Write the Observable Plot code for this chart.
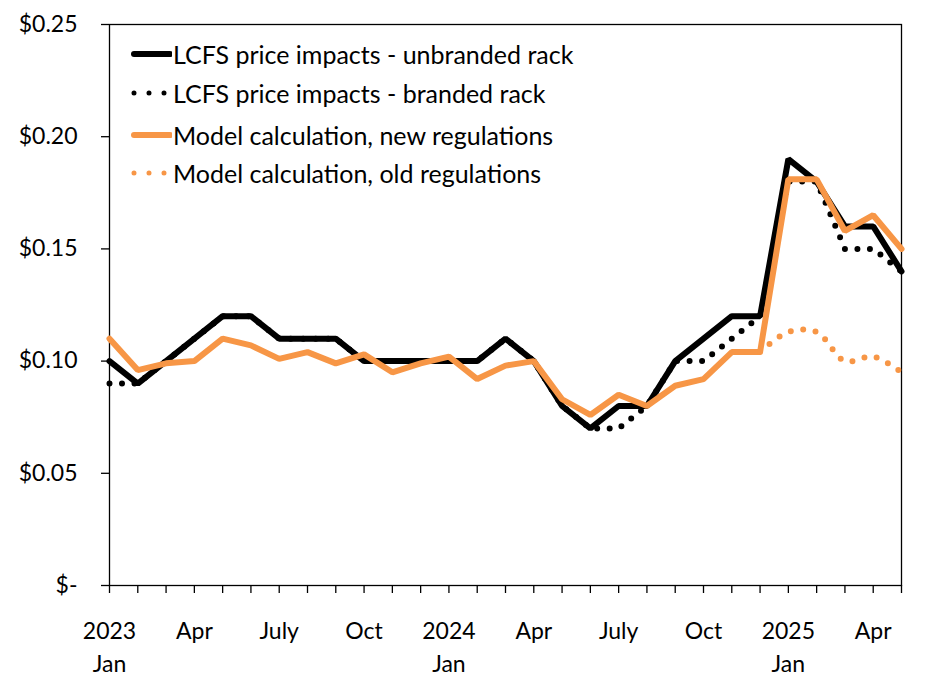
<!DOCTYPE html>
<html>
<head>
<meta charset="utf-8">
<script src="https://cdn.jsdelivr.net/npm/d3@7"></script>
<script src="https://cdn.jsdelivr.net/npm/@observablehq/plot@0.6"></script>
<style>
  html, body { margin: 0; padding: 0; background: #fff; }
  #wrap { position: relative; width: 936px; height: 679px; font-family: Lato, "Open Sans", sans-serif; }
  #legend { position: absolute; left: 130px; top: 0; }
  .row { position: absolute; left: 0; height: 30px; display: flex; align-items: center; white-space: nowrap; font-size: 25px; color: #000; }
  .row svg { width: 42px; height: 12px; margin-right: 1px; }
</style>
</head>
<body>
<div id="wrap"><div id="legend"></div></div>
<script>
const months = ["2023-01","2023-02","2023-03","2023-04","2023-05","2023-06","2023-07","2023-08","2023-09","2023-10","2023-11","2023-12",
  "2024-01","2024-02","2024-03","2024-04","2024-05","2024-06","2024-07","2024-08","2024-09","2024-10","2024-11","2024-12",
  "2025-01","2025-02","2025-03","2025-04","2025-05"];
const unbranded = [0.10,0.09,0.10,0.11,0.12,0.12,0.11,0.11,0.11,0.10,0.10,0.10,0.10,0.10,0.11,0.10,0.08,0.07,0.08,0.08,0.10,0.11,0.12,0.12,0.19,0.18,0.16,0.16,0.14];
const branded   = [0.09,0.09,0.10,0.11,0.12,0.12,0.11,0.11,0.11,0.10,0.10,0.10,0.10,0.10,0.11,0.10,0.08,0.07,0.07,0.08,0.10,0.10,0.11,0.12,0.18,0.18,0.15,0.15,0.14];
const newRegs   = [0.110,0.096,0.099,0.100,0.110,0.107,0.101,0.104,0.099,0.103,0.095,0.099,0.102,0.092,0.098,0.100,0.083,0.076,0.085,0.080,0.089,0.092,0.104,0.104,0.181,0.181,0.158,0.165,0.150];
const oldRegs   = [null,null,null,null,null,null,null,null,null,null,null,null,null,null,null,null,null,null,null,null,null,null,null,0.104,0.113,0.113,0.100,0.102,0.095];
const xTickLabels = {0:"2023\nJan",3:"Apr",6:"July",9:"Oct",12:"2024\nJan",15:"Apr",18:"July",21:"Oct",24:"2025\nJan",27:"Apr"};
const yTicks = [0,0.05,0.10,0.15,0.20,0.25];
const seriesNames = ["LCFS price impacts - unbranded rack","LCFS price impacts - branded rack","Model calculation, new regulations","Model calculation, old regulations"];

const ORANGE = "#F79646";
const toRows = arr => arr.map((v,i)=>({i, month: months[i], v})).filter(d => d.v != null);
const labelRows = Object.entries(xTickLabels).map(([i,l]) => ({i:+i, label:l}));
const idx = months.map((m,i)=>i);

const chart = Plot.plot({
  width: 936,
  height: 679,
  marginLeft: 109,
  marginRight: 35,
  marginTop: 24,
  marginBottom: 94,
  style: {fontFamily: "Lato, 'Open Sans', sans-serif", fontSize: "23px", color: "#000", background: "transparent"},
  x: {type: "linear", domain: [0, months.length - 1]},
  y: {domain: [0, 0.25]},
  marks: [
    Plot.frame({stroke: "#000", strokeWidth: 1.3}),
    Plot.axisY({ticks: yTicks, tickSize: 8, tickPadding: 24, strokeWidth: 1.3, fontSize: 23,
      tickFormat: d => d === 0 ? "$-" : "$" + d.toFixed(2), label: null}),
    Plot.axisX({ticks: idx, tickSize: 8, strokeWidth: 1.3, tickFormat: () => "", label: null}),
    Plot.text(labelRows, {x: "i", text: "label", frameAnchor: "bottom", lineAnchor: "top", dy: 30, lineHeight: 1.43, fontSize: 23}),
    Plot.line(toRows(unbranded), {x: "i", y: "v", stroke: "#000", strokeWidth: 6, strokeLinejoin: "miter"}),
    Plot.line(toRows(branded), {x: "i", y: "v", stroke: "#000", strokeWidth: 6, strokeDasharray: "0 12.5", strokeLinecap: "round"}),
    Plot.line(toRows(newRegs), {x: "i", y: "v", stroke: ORANGE, strokeWidth: 6, strokeLinejoin: "miter"}),
    Plot.line(toRows(oldRegs), {x: "i", y: "v", stroke: ORANGE, strokeWidth: 6, strokeDasharray: "0 12.5", strokeLinecap: "round", curve: "catmull-rom"})
  ]
});
chart.style.position = "absolute";
chart.style.left = "0";
chart.style.top = "0";
const wrap = document.getElementById("wrap");
wrap.insertBefore(chart, wrap.firstChild);

const legendStyles = [
  {stroke: "#000", dash: null},
  {stroke: "#000", dash: "0 15"},
  {stroke: ORANGE, dash: null},
  {stroke: ORANGE, dash: "0 15"}
];
const rowCenters = [54, 93, 135, 173];
const legend = document.getElementById("legend");
seriesNames.forEach((name, k) => {
  const row = document.createElement("div");
  row.className = "row";
  row.style.top = (rowCenters[k] - 15) + "px";
  const s = legendStyles[k];
  row.innerHTML = `<svg viewBox="0 0 42 12"><line x1="${s.dash ? 4 : 4}" x2="${s.dash ? 36 : 40}" y1="6" y2="6" stroke="${s.stroke}" stroke-width="${s.dash ? 5 : 6}" stroke-linecap="round" ${s.dash ? `stroke-dasharray="${s.dash}"` : ""}/></svg><span>${name}</span>`;
  legend.appendChild(row);
});
</script>
</body>
</html>
